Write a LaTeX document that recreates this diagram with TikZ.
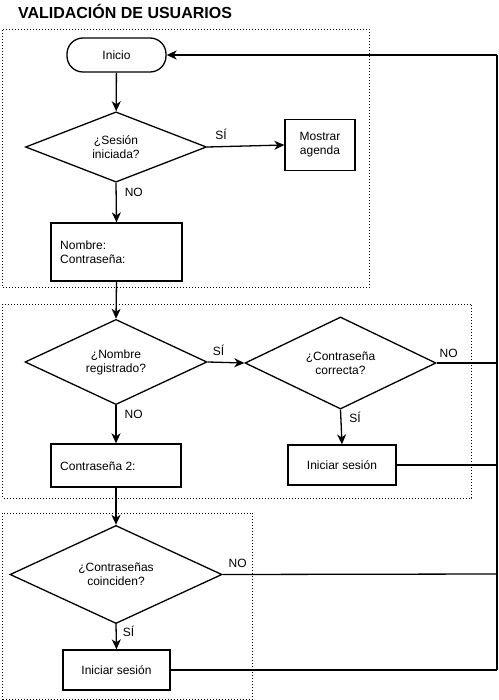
\documentclass[tikz,border=0pt]{standalone}
\usepackage{fontspec}
\setmainfont{Liberation Sans}
\usetikzlibrary{shapes.geometric,arrows.meta}
\begin{document}
\begin{tikzpicture}[x=1pt,y=-1pt,
  every node/.style={font=\fontsize{12}{14}\selectfont},
  frame/.style={draw,dotted,line width=1pt},
  boxnode/.style={draw,line width=1.3pt,inner sep=0pt,align=center},
  decision/.style={draw,diamond,line width=1.3pt,inner sep=0pt,align=center},
  arr/.style={line width=1.3pt,-{Stealth[length=10pt,width=9pt,inset=3pt]}},
  ln/.style={line width=1.3pt},
  lbl/.style={inner sep=0pt}
]
\useasboundingbox (0,0) rectangle (498,700);
\node[lbl,font=\fontsize{16}{18}\selectfont\bfseries] (title) at (125,11) {VALIDACIÓN DE USUARIOS};
% frames
\draw[frame] (2.5,30) rectangle (369.5,287.5);
\draw[frame] (2.5,304) rectangle (471.5,498);
\draw[frame] (2.5,513) rectangle (252.5,699);
% nodes
\node[boxnode,rounded corners=16pt,minimum width=99pt,minimum height=34pt] (inicio) at (116.5,55) {Inicio};
\node[decision,minimum width=181pt,minimum height=70pt] (d1) at (116,147) {¿Sesión\\iniciada?};
\node[boxnode,minimum width=70pt,minimum height=51pt] (mostrar) at (320,145) {Mostrar\\agenda};
\node[boxnode,minimum width=131pt,minimum height=58pt] (datos) at (116.5,252) {};
\node[lbl,anchor=west,align=left] (datostxt) at (60,252) {Nombre:\\Contraseña:};
\node[decision,minimum width=182pt,minimum height=80pt] (d2) at (116,362) {¿Nombre\\registrado?};
\node[decision,minimum width=191pt,minimum height=88pt] (d3) at (340.5,363) {¿Contraseña\\correcta?};
\node[boxnode,minimum width=108pt,minimum height=40pt] (ini1) at (342,465) {Iniciar sesión};
\node[boxnode,minimum width=130pt,minimum height=43pt] (c2) at (116,465.5) {};
\node[lbl,anchor=west] (c2txt) at (60,466) {Contraseña 2:};
\node[decision,minimum width=212pt,minimum height=85pt] (d4) at (116,574.5) {¿Contraseñas\\coinciden?};
\node[boxnode,minimum width=107pt,minimum height=40pt] (ini2) at (116.5,670) {Iniciar sesión};
% return line coordinates
\coordinate (rtop) at (497,55);
\coordinate (r3) at (497,363);
\coordinate (r4) at (497,465);
\coordinate (r5) at (497,574);
\coordinate (r6) at (497,670);
% connectors
\draw[arr] (inicio) -- (d1);
\draw[arr] (d1.east) -- (mostrar.west) node[lbl,pos=0.18,above=6pt] (s1) {SÍ};
\draw[arr] (d1.south) -- (datos.north) node[lbl,pos=0.25,right=8pt] (n1) {NO};
\draw[arr] (datos.south) -- (d2.north);
\draw[arr] (d2.east) -- (d3.west) node[lbl,pos=0.3,above=6pt] (s2) {SÍ};
\draw[arr] (d2.south) -- (c2.north) node[lbl,pos=0.25,right=8pt] (n2) {NO};
\draw[arr] (d3.south) -- (ini1.north) node[lbl,pos=0.22,right=8pt] (s3) {SÍ};
\draw[arr] (c2.south) -- (d4.north);
\draw[arr] (d4.south) -- (ini2.north) node[lbl,pos=0.28,right=6pt] (s4) {SÍ};
\draw[ln] (d3.east) -- (r3) node[lbl,pos=0.2,above=5pt] (n3) {NO};
\draw[ln] (ini1.east) -- (r4);
\draw[ln] (d4.east) -- (r5) node[lbl,pos=0.055,above=6pt] (n4) {NO};
\draw[ln] (ini2.east) -- (r6);
\draw[ln] (r6) -- (r5);
\draw[line width=1.8pt] (r5) -- (rtop);
\draw[arr] (rtop) -- (inicio.east);
\end{tikzpicture}
\end{document}
